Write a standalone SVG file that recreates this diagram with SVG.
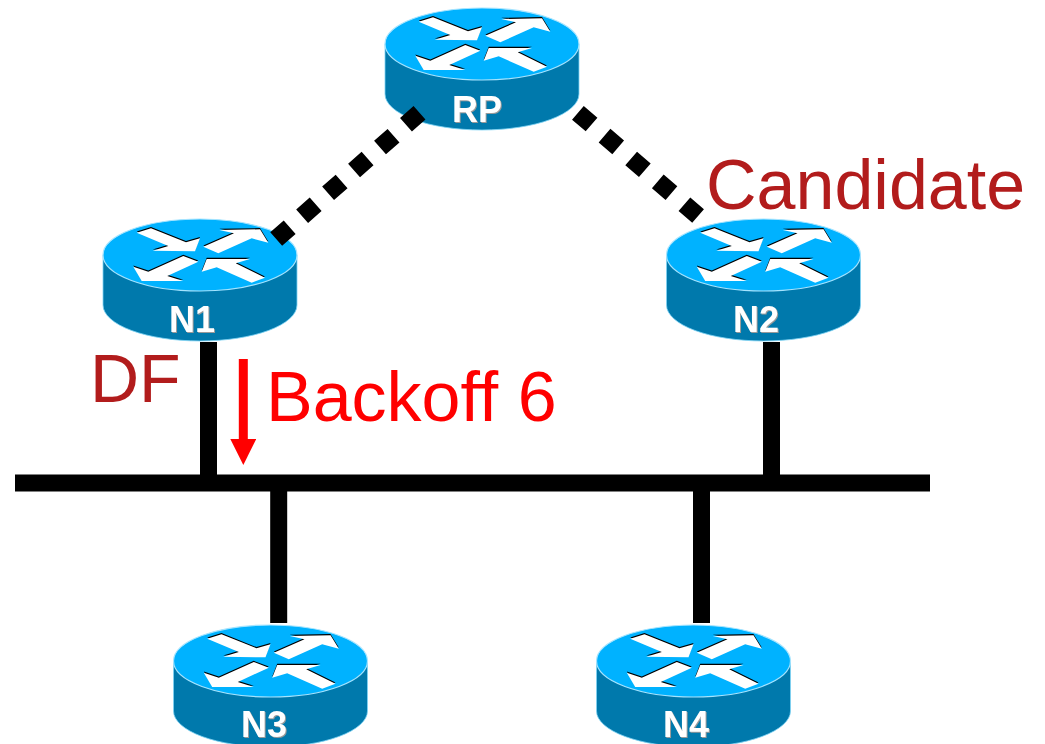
<svg xmlns="http://www.w3.org/2000/svg" width="1045" height="744" viewBox="0 0 1045 744">
<style>
.side{fill:#0079ac;stroke:#7fd4f5;stroke-width:.8}
.top{fill:#00b2ff;stroke:#a5e4ff;stroke-width:1.2}
.shade{fill:#000}
.arw{fill:#fff}
.rl{font:bold 36px "Liberation Sans",Arial,sans-serif;fill:#fff;text-anchor:middle;filter:drop-shadow(1.5px 1.5px 0 #9a9a9a)}
.lbl{font-family:"Liberation Sans",Arial,sans-serif;font-size:70px}
.dark{fill:#b21c1c}
.red{fill:#f00}
.solid{stroke:#000;stroke-width:17;fill:none}
.dotted{stroke:#000;stroke-width:18;fill:none}
</style>
<defs>
<g id="arrows">
<polygon points="-63.3,-22.3 -49,-26.7 -14,-12.7 0,-16.7 -5,-3.7 -47.3,-4.3 -31.7,-9"/>
<polygon points="3.3,-8.3 34,-21.7 19.3,-25 60,-25.7 68.3,-12.3 51.7,-16.7 18.3,-1.7"/>
<polygon points="-1.7,6.7 -16.7,1 -51.7,16.7 -66.7,11.7 -58.3,26 -16.7,26 -32.7,21"/>
<polygon points="1.7,16.7 6.7,4 50,4 35.7,8.3 65,22.7 51.7,27.7 16.7,12.3"/>
</g>
<g id="router">
<path class="side" d="M-97,0V50A97,36 0 0 0 97,50V0Z"/>
<ellipse class="top" cx="0" cy="0" rx="97" ry="36"/>
<use href="#arrows" class="shade" y="-1.2"/>
<use href="#arrows" class="arw"/>
</g>
<marker id="head" markerUnits="userSpaceOnUse" markerWidth="26" markerHeight="26" refX="0" refY="13" orient="auto">
<polygon points="0,0 26,13 0,26" fill="#f00"/>
</marker>
</defs>
<g id="RP"><use href="#router" x="482" y="44"/><text class="rl" x="477" y="122">RP</text></g>
<g id="N1"><use href="#router" x="200" y="255"/><text class="rl" x="192" y="332">N1</text></g>
<g id="N2"><use href="#router" x="763.500" y="255"/><text class="rl" x="756" y="332">N2</text></g>
<g id="N3"><use href="#router" x="270.500" y="661"/><text class="rl" x="264" y="737">N3</text></g>
<g id="N4"><use href="#router" x="693.500" y="661"/><text class="rl" x="686" y="737">N4</text></g>
<g id="connectors">
<path class="dotted" stroke-dasharray="18 16.600" d="M419.500,112.800L276.200,239"/>
<path class="dotted" stroke-dasharray="18 17.100" d="M577.900,112.800L698.100,216"/>
<path class="solid" d="M15,483H930M208.500,342V483M771.500,342V483M278.700,483V623M701.500,483V623"/>
<line x1="243.300" y1="359" x2="243.300" y2="439" stroke="#f00" stroke-width="9" marker-end="url(#head)"/>
</g>
<g id="labels">
<text class="lbl dark" style="font-size:68px" x="90" y="402">DF</text>
<text class="lbl red" x="266" y="420.500">Backoff 6</text>
<text class="lbl dark" x="706" y="208.500">Candidate</text>
</g>
</svg>
